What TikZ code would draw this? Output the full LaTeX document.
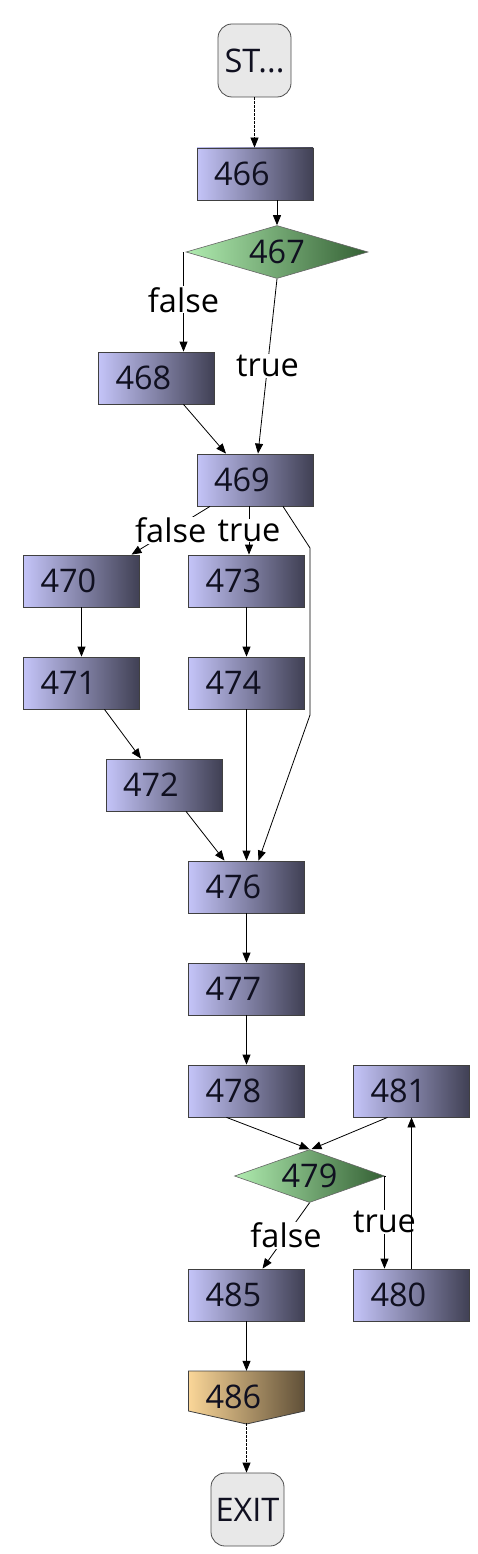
\documentclass[tikz,border=0pt]{standalone}
\usepackage{fontspec}
\setmainfont{Open Sans}
\usetikzlibrary{shapes.geometric,arrows.meta}
\definecolor{boxL}{RGB}{196,196,248}
\definecolor{boxR}{RGB}{64,64,84}
\definecolor{dmdL}{RGB}{176,236,176}
\definecolor{dmdR}{RGB}{52,96,52}
\definecolor{tanL}{RGB}{250,214,152}
\definecolor{tanR}{RGB}{96,80,56}
\definecolor{termF}{RGB}{232,232,232}
\definecolor{txt}{RGB}{16,16,32}
\tikzset{
  every node/.style={font=\fontsize{32.5}{36}\selectfont, text=txt},
  blk/.style={rectangle, minimum width=116pt, minimum height=52pt, inner xsep=17pt,
    text width=82pt, align=left, left color=boxL, right color=boxR, draw=black!75, line width=0.8pt},
  dmd/.style={diamond, aspect=3.5, minimum width=182pt, minimum height=53pt, inner sep=0pt,
    left color=dmdL, right color=dmdR, draw=black!60, line width=0.6pt},
  term/.style={rectangle, rounded corners=14pt, minimum width=73pt, minimum height=73pt,
    inner sep=2pt, fill=termF, draw=black!70, line width=0.8pt},
  tanbox/.style={rectangle, minimum width=116pt, minimum height=52pt, inner xsep=17pt,
    text width=82pt, align=left},
  conn/.style={draw=black, line width=0.8pt, -{Triangle[length=10pt,width=8pt]}},
  dconn/.style={conn, dash pattern=on 2.5pt off 1.5pt},
  lbl/.style={fill=white, inner sep=1pt, text=black}
}
\begin{document}
\begin{tikzpicture}[x=1pt,y=-1pt]
\useasboundingbox[fill=white] (0,0) rectangle (477,1554);
\node[term] (start) at (254.5,60.5) {ST...};
\node[blk] (n466) at (255,174) {466};
\node[dmd] (n467) at (277,252) {467};
\node[blk] (n468) at (156.5,378) {468};
\node[blk] (n469) at (255,480) {469};
\node[blk] (n470) at (81.5,581) {470};
\node[blk] (n473) at (246.5,581) {473};
\node[blk] (n471) at (81.5,683) {471};
\node[blk] (n474) at (246.5,683) {474};
\node[blk] (n472) at (164,785) {472};
\node[blk] (n476) at (246.5,887) {476};
\node[blk] (n477) at (246.5,989) {477};
\node[blk] (n478) at (246.5,1091) {478};
\node[blk] (n481) at (411.5,1091) {481};
\node[dmd, minimum width=150pt] (n479) at (309.5,1176) {479};
\node[blk] (n485) at (246.5,1295) {485};
\node[blk] (n480) at (411.5,1295) {480};
\path[left color=tanL, right color=tanR, draw=black!75, line width=0.8pt]
  (188.5,1371) -- (304.5,1371) -- (304.5,1411) -- (246.5,1424) -- (188.5,1411) -- cycle;
\node[tanbox] (n486) at (246.5,1397) {486};
\node[term] (exit) at (247.5,1509.5) {EXIT};
\coordinate (b1) at (310,548);
\coordinate (b2) at (310,715);
% edges
\draw[dconn] (start.south) -- (start.south |- n466.north);
\draw[conn] (n467.north |- n466.south) -- (n467.north);
\draw[conn] ([xshift=-3pt]n467.west) -| ([xshift=27pt]n468.north) node[lbl, pos=0.74] {false};
\draw[conn] (n467.south) -- ([xshift=3pt]n469.north) node[lbl, pos=0.5] {true};
\draw[conn] ([xshift=27pt]n468.south) -- ([xshift=-29pt]n469.north);
\draw[conn] ([xshift=-45pt]n469.south) -- ([xshift=50pt]n470.north) node[lbl, pos=0.5, inner xsep=3pt] {false};
\draw[conn] ([xshift=-6pt]n469.south) -- ([xshift=2.5pt]n473.north) node[lbl, pos=0.5] {true};
\draw[conn] ([xshift=28pt]n469.south) -- (b1) -- (b2) -- ([xshift=12pt]n476.north);
\draw[conn] (n470.south) -- (n471.north);
\draw[conn] (n473.south) -- (n474.north);
\draw[conn] ([xshift=23pt]n471.south) -- ([xshift=-23pt]n472.north);
\draw[conn] (n474.south) -- (n476.north);
\draw[conn] ([xshift=22pt]n472.south) -- ([xshift=-22pt]n476.north);
\draw[conn] (n476.south) -- (n477.north);
\draw[conn] (n477.south) -- (n478.north);
\draw[conn] ([xshift=-20pt]n478.south) -- ([xshift=0pt]n479.north);
\draw[conn] ([xshift=-24pt]n481.south) -- ([xshift=2pt]n479.north);
\draw[conn] (n479.east) -| ([xshift=-27pt]n480.north) node[lbl, pos=0.75] {true};
\draw[conn] (n479.south) -- ([xshift=16pt]n485.north) node[lbl, pos=0.5] {false};
\draw[conn] (n480.north) -- (n481.south);
\draw[conn] (n485.south) -- (n486.north);
\draw[dconn] (n486.south) -- (n486.south |- exit.north);
\end{tikzpicture}
\end{document}
